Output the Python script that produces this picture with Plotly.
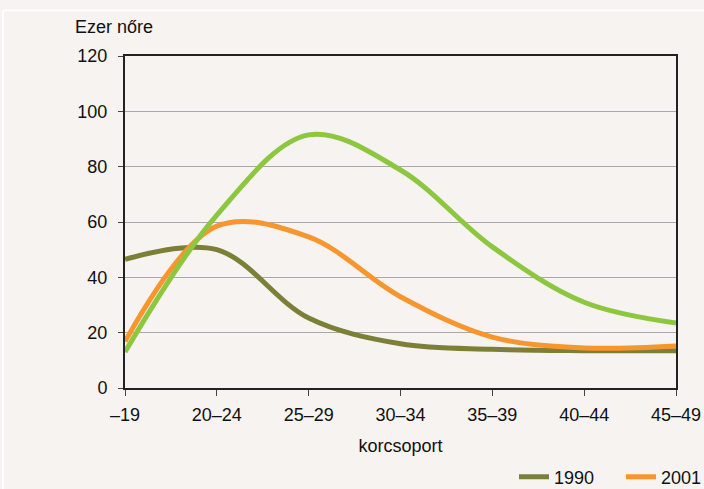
import plotly.graph_objects as go

categories = ["–19", "20–24", "25–29", "30–34", "35–39", "40–44", "45–49"]
v1990 = [46.5, 50.0, 25.3, 16.0, 14.0, 13.5, 13.5]
v2001 = [16.8, 58.5, 54.6, 33.0, 18.4, 14.5, 15.2]
v2011 = [13.0, 62.5, 91.5, 78.8, 51.0, 31.0, 23.5]
y_ticks = [0, 20, 40, 60, 80, 100, 120]

FONT = "Liberation Sans Narrow, Arial Narrow, Liberation Sans, Arial, sans-serif"
FS = 18
BG = "#F6F3F0"

W, H = 704, 489
L, R, T, B = 125, 28, 56, 101
pw, ph = W - L - R, H - T - B

def px(x):
    return (x - L) / pw

def py(y):
    return (H - B - y) / ph

xs = list(range(len(categories)))

fig = go.Figure()
fig.add_trace(go.Scatter(x=xs, y=v1990, name="1990", mode="lines",
                         line=dict(color="#7B8036", width=5, shape="spline", smoothing=1.0)))
fig.add_trace(go.Scatter(x=xs, y=v2001, name="2001", mode="lines",
                         line=dict(color="#F7962F", width=5, shape="spline", smoothing=1.0)))
fig.add_trace(go.Scatter(x=xs, y=v2011, name="2011", mode="lines", showlegend=False,
                         line=dict(color="#8DC63F", width=5, shape="spline", smoothing=1.0)))

fig.update_layout(
    width=W, height=H,
    margin=dict(l=L, r=R, t=T, b=B, pad=0, autoexpand=False),
    paper_bgcolor=BG, plot_bgcolor=BG,
    font=dict(family=FONT, size=FS, color="#111111"),
    showlegend=True,
    legend=dict(orientation="h", x=px(514), y=py(477), xanchor="left", yanchor="middle",
                bgcolor="rgba(0,0,0,0)", font=dict(size=FS), itemwidth=30,
                entrywidth=62, entrywidthmode="pixels",
                traceorder="normal"),
    xaxis=dict(
        range=[0, 6], tickvals=xs, ticktext=categories,
        showgrid=False, zeroline=False,
        showline=True, linecolor="#222222", linewidth=2, mirror=True,
        ticks="outside", ticklen=6, tickcolor="#444444", tickwidth=1,
        ticklabelstandoff=3,
        title=dict(text="korcsoport", standoff=16, font=dict(size=FS)),
    ),
    yaxis=dict(
        range=[0, 120], tickvals=y_ticks,
        showgrid=True, gridcolor="#A9A9A9", gridwidth=1, zeroline=False,
        showline=True, linecolor="#222222", linewidth=2, mirror=True,
        ticks="outside", ticklen=5, tickcolor="#444444", tickwidth=1,
        ticklabelstandoff=7,
    ),
    annotations=[dict(text="Ezer nőre", x=px(73), y=py(27), xref="paper", yref="paper",
                      xanchor="left", yanchor="middle", showarrow=False,
                      font=dict(family=FONT, size=FS, color="#111111"))],
    shapes=[
        dict(type="line", xref="paper", yref="paper", x0=px(3), x1=px(704), y0=py(10.5), y1=py(10.5),
             line=dict(color="#FFFFFF", width=2)),
        dict(type="line", xref="paper", yref="paper", x0=px(3), x1=px(3), y0=py(10), y1=py(489),
             line=dict(color="#FFFFFF", width=2)),
    ],
)

fig.write_html("out.html", config={"displayModeBar": False})

with open("out.html", "r", encoding="utf-8") as f:
    html = f.read()
html = html.replace("<head>", "<head><style>html,body{margin:0;padding:0;overflow:hidden;}</style>", 1)
with open("out.html", "w", encoding="utf-8") as f:
    f.write(html)
